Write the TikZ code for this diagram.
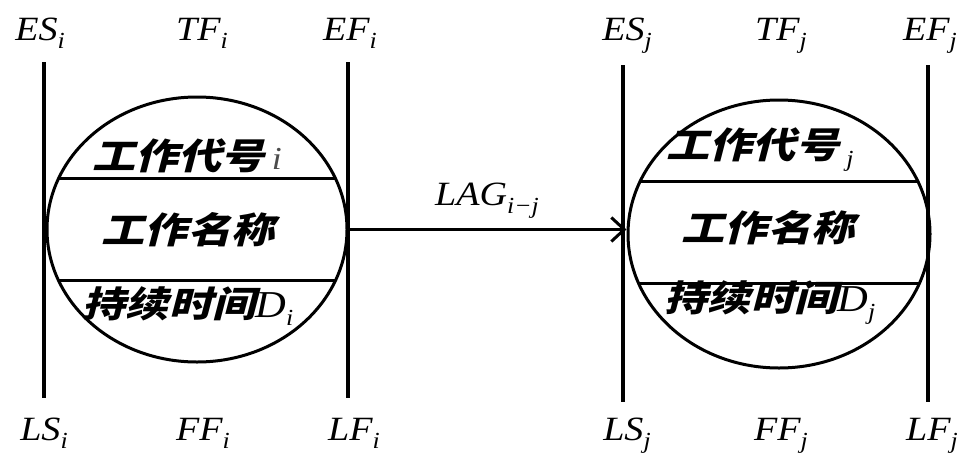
\documentclass[tikz,border=0pt]{standalone}
\usepackage{fontspec}
\newfontfamily\cjk{Noto Sans CJK SC}[FakeSlant=0.26,FakeStretch=1.2]
\newfontfamily\tms{Liberation Serif}[FakeStretch=1.12]
\usetikzlibrary{shapes.geometric,arrows.meta}
\newcommand\lbsub[1]{\raisebox{-8pt}{\fontsize{23}{24}\selectfont #1}}
\tikzset{
  vline/.style={line width=4pt},
  oval/.style={ellipse,draw,line width=3pt,inner sep=0pt},
  chord/.style={line width=3pt},
  tlabel/.style={anchor=base,inner sep=0pt,font=\tms\itshape\fontsize{34}{38}\selectfont},
  cjktext/.style={inner sep=0pt,font=\cjk\bfseries\fontsize{36}{40}\selectfont},
  link/.style={line width=3pt,-{Straight Barb[length=13pt,width=24pt,line width=3pt]}}
}
\begin{document}
\begin{tikzpicture}[x=1pt,y=-1pt]
\useasboundingbox (0,0) rectangle (969,461);
% left activity
\draw[vline] (44,62) -- (44,398);
\draw[vline] (348,62) -- (348,398);
\node[oval,minimum width=300pt,minimum height=265pt] (ei) at (197,229.5) {};
\begin{scope}
  \clip (197,229.5) ellipse [x radius=150, y radius=132.5];
  \draw[chord] (0,178) -- (400,178);
  \draw[chord] (0,280) -- (400,280);
\end{scope}
\node[cjktext] (ci) at (187,156) {工作代号\hspace{7pt}{\tms\mdseries\itshape\color{black!70}\fontsize{32}{34}\selectfont i}};
\node[cjktext] (ni) at (188,230) {工作名称};
\node[cjktext] (di) at (188,306) {持续时间{\tms\mdseries\itshape\fontsize{38}{40}\selectfont D\lbsub{i}}};
\node[tlabel] (esi) at (40,40) {ES\lbsub{i}};
\node[tlabel] (tfi) at (202,40) {TF\lbsub{i}};
\node[tlabel] (efi) at (350,40) {EF\lbsub{i}};
\node[tlabel] (lsi) at (44,440) {LS\lbsub{i}};
\node[tlabel] (ffi) at (203,440) {FF\lbsub{i}};
\node[tlabel] (lfi) at (354,440) {LF\lbsub{i}};
% right activity
\draw[vline] (623,65) -- (623,402);
\draw[vline] (928,65) -- (928,402);
\node[oval,minimum width=302pt,minimum height=268pt] (ej) at (779,234) {};
\begin{scope}
  \clip (779,234) ellipse [x radius=151, y radius=134];
  \draw[chord] (580,181) -- (980,181);
  \draw[chord] (580,283) -- (980,283);
\end{scope}
\node[cjktext] (cj) at (760,150) {工作代号\hspace{7pt}{\tms\mdseries\itshape\fontsize{34}{38}\selectfont\lbsub{j}}};
\node[cjktext] (nj) at (768,228) {工作名称};
\node[cjktext] (dj) at (770,303) {持续时间{\tms\mdseries\itshape\fontsize{38}{40}\selectfont D\lbsub{j}}};
\node[tlabel] (esj) at (627,40) {ES\lbsub{j}};
\node[tlabel] (tfj) at (781,40) {TF\lbsub{j}};
\node[tlabel] (efj) at (930,40) {EF\lbsub{j}};
\node[tlabel] (lsj) at (627,440) {LS\lbsub{j}};
\node[tlabel] (ffj) at (781,440) {FF\lbsub{j}};
\node[tlabel] (lfj) at (932,440) {LF\lbsub{j}};
% link
\draw[link] (ei.east) -- (ei.east -| ej.west);
\node[tlabel] (lag) at (487,205) {LAG\lbsub{i−j}};
\end{tikzpicture}
\end{document}
